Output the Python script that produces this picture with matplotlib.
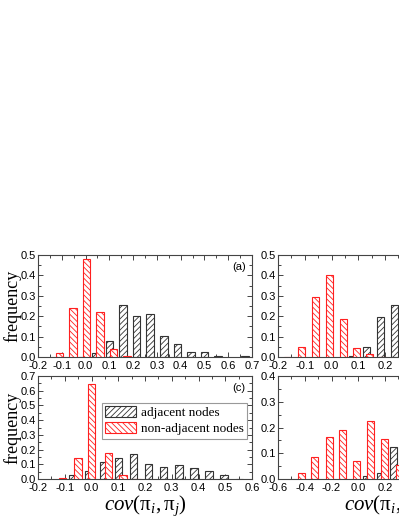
import numpy as np
import matplotlib
matplotlib.use('Agg')
import matplotlib.pyplot as plt
from matplotlib import rcParams
from matplotlib.ticker import MultipleLocator, FormatStrFormatter

# Font settings
rcParams['font.family'] = 'sans-serif'
rcParams['font.sans-serif'] = ['Liberation Sans']
rcParams['font.size'] = 8
rcParams['mathtext.fontset'] = 'custom'
rcParams['mathtext.rm'] = 'Liberation Serif'
rcParams['mathtext.it'] = 'Liberation Serif:italic'
rcParams['hatch.linewidth'] = 0.6

# --- Data ---
# (a)
a_red_x = [-0.110, -0.053, 0.004, 0.061, 0.118, 0.175]
a_red_y = [0.02, 0.24, 0.48, 0.22, 0.04, 0.003]
a_blk_x = [-0.013, 0.044, 0.101, 0.158, 0.215, 0.272, 0.329, 0.386, 0.443, 0.500, 0.557, 0.670]
a_blk_y = [0.002, 0.02, 0.08, 0.255, 0.20, 0.21, 0.105, 0.065, 0.025, 0.025, 0.005, 0.003]

# (b)
b_red_x = [-0.165, -0.113, -0.060, -0.007, 0.044, 0.094, 0.143, 0.192]
b_red_y = [0.002, 0.05, 0.295, 0.40, 0.185, 0.045, 0.015, 0.002]
b_blk_x = [0.080, 0.130, 0.182, 0.234]
b_blk_y = [0.003, 0.05, 0.195, 0.255]

# (c)
c_red_x = [-0.108, -0.051, 0.000, 0.063, 0.117, 0.170]
c_red_y = [0.005, 0.145, 0.645, 0.175, 0.03, 0.003]
c_blk_x = [-0.069, -0.012, 0.044, 0.101, 0.157, 0.214, 0.270, 0.327, 0.383, 0.440, 0.496, 0.553]
c_blk_y = [0.025, 0.055, 0.115, 0.14, 0.17, 0.105, 0.08, 0.095, 0.075, 0.055, 0.03, 0.003]

# (d)
d_red_x = [-0.426, -0.325, -0.216, -0.117, -0.013, 0.094, 0.198, 0.310]
d_red_y = [0.022, 0.085, 0.165, 0.19, 0.068, 0.225, 0.155, 0.055]
d_blk_x = [0.062, 0.163, 0.267]
d_blk_y = [0.01, 0.022, 0.125]

xlabel = r'$cov(\mathrm{\pi}_i,\mathrm{\pi}_j)$'

fig = plt.figure(figsize=(3.99, 5.16), dpi=100)
W = 214 / 399
ax_a = fig.add_axes([38 / 399, 1 - 357 / 516, W, 102 / 516])
ax_b = fig.add_axes([278 / 399, 1 - 357 / 516, W, 102 / 516])
ax_c = fig.add_axes([38 / 399, 1 - 479 / 516, W, 103 / 516])
ax_d = fig.add_axes([278 / 399, 1 - 479 / 516, W, 103 / 516])


def draw(ax, bx, by, rx, ry, w, xlim, xstep, ylim):
    hb = ax.bar(bx, by, width=w, facecolor='white', edgecolor='#333333',
                hatch='//////', linewidth=0.8, label='adjacent nodes', zorder=2)
    hr = ax.bar(rx, ry, width=w, facecolor='white', edgecolor='#ff2020',
                hatch='\\\\\\\\\\\\', linewidth=0.8, label='non-adjacent nodes', zorder=3)
    ax.set_xlim(*xlim)
    ax.set_ylim(*ylim)
    ax.xaxis.set_major_locator(MultipleLocator(xstep))
    ax.xaxis.set_minor_locator(MultipleLocator(xstep / 2))
    ax.yaxis.set_major_locator(MultipleLocator(0.1))
    ax.yaxis.set_minor_locator(MultipleLocator(0.05))
    ax.xaxis.set_major_formatter(FormatStrFormatter('%.1f'))
    ax.yaxis.set_major_formatter(FormatStrFormatter('%.1f'))
    ax.tick_params(which='both', direction='in', top=True, right=True,
                   color='#444444', width=0.7, pad=1.5)
    ax.tick_params(axis='x', which='major', pad=3)
    ax.tick_params(which='major', length=3.5)
    ax.tick_params(which='minor', length=2)
    for s in ax.spines.values():
        s.set_color('#444444')
        s.set_linewidth(0.8)
    return hb, hr


draw(ax_a, a_blk_x, a_blk_y, a_red_x, a_red_y, 0.032, (-0.2, 0.7), 0.1, (0, 0.5))
draw(ax_b, b_blk_x, b_blk_y, b_red_x, b_red_y, 0.026, (-0.2, 0.6), 0.1, (0, 0.5))
hb, hr = draw(ax_c, c_blk_x, c_blk_y, c_red_x, c_red_y, 0.028, (-0.2, 0.6), 0.1, (0, 0.7))
draw(ax_d, d_blk_x, d_blk_y, d_red_x, d_red_y, 0.052, (-0.6, 1.0), 0.2, (0, 0.4))

ax_a.text(0.97, 0.88, '(a)', transform=ax_a.transAxes, ha='right', va='center', fontsize=8)
ax_c.text(0.97, 0.88, '(c)', transform=ax_c.transAxes, ha='right', va='center', fontsize=8)

for ax in (ax_a, ax_c):
    ax.set_ylabel('frequency', family='Liberation Serif', fontsize=13)
    ax.yaxis.set_label_coords(-0.078, 0.5)
for ax in (ax_c, ax_d):
    ax.set_xlabel(xlabel, fontsize=15)
    ax.xaxis.set_label_coords(0.5, -0.145)

leg = ax_c.legend(handles=[hb, hr], loc='upper left', bbox_to_anchor=(0.30, 0.74),
                  borderaxespad=0, fancybox=False, framealpha=1, edgecolor='#999999',
                  prop={'family': 'Liberation Serif', 'size': 9.5},
                  handlelength=2.3, handleheight=0.9, handletextpad=0.4,
                  borderpad=0.25, labelspacing=0.25)
leg.get_frame().set_linewidth(0.8)

plt.savefig('out.png', dpi=100)
